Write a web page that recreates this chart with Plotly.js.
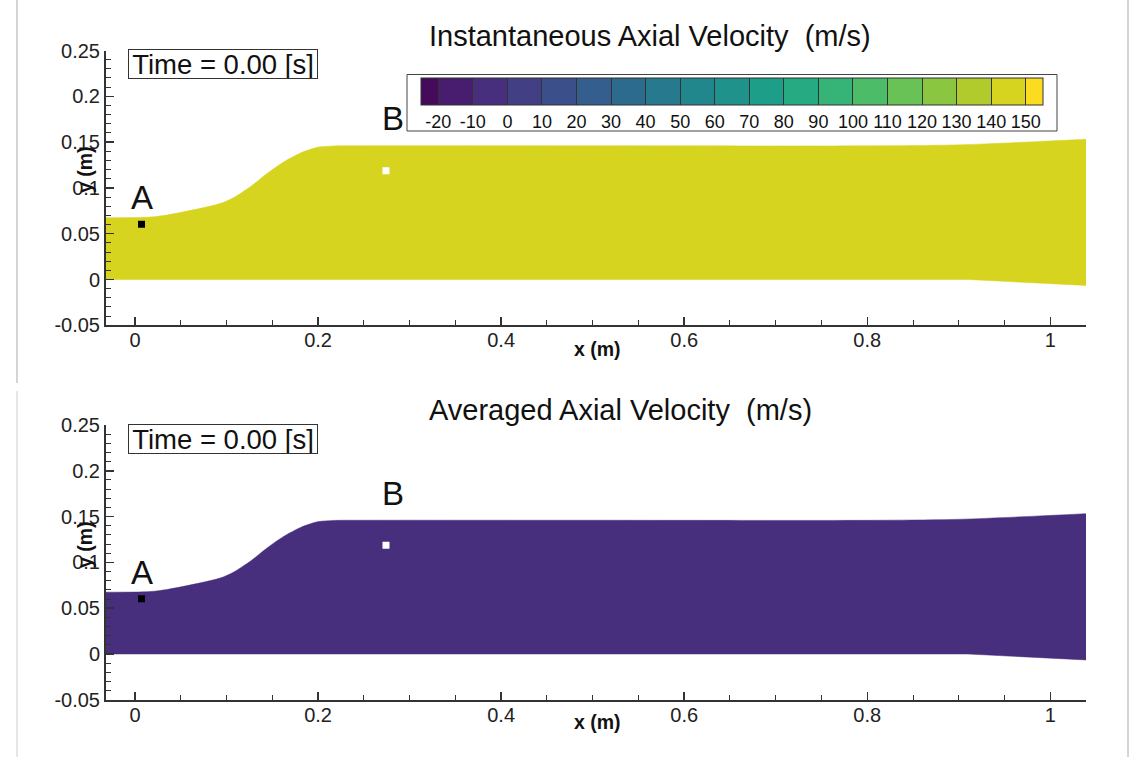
<!DOCTYPE html>
<html>
<head>
<meta charset="utf-8">
<script src="https://cdn.plot.ly/plotly-3.0.1.min.js"></script>
<style>html,body{margin:0;padding:0;background:#fff;}#chart{width:1132px;height:757px;}</style>
</head>
<body>
<div id="chart"></div>
<script>
// ---------------- data ----------------
const wallUpperX = [-0.0317, 0.0, 0.017, 0.035, 0.0715, 0.093, 0.107, 0.126, 0.1446, 0.1628, 0.181, 0.1992, 0.2174, 0.25, 0.5, 0.814, 0.905, 1.039];
const wallUpperY = [0.0675, 0.0676, 0.0682, 0.0704, 0.0777, 0.0829, 0.0890, 0.1013, 0.1160, 0.1286, 0.1382, 0.1443, 0.1458, 0.1460, 0.1460, 0.1460, 0.1472, 0.1532];
const wallLowerX = [-0.0317, 0.91, 1.039];
const wallLowerY = [0.0, 0.0, -0.0065];

const instValue = 145;   // instantaneous axial velocity (m/s), uniform at t = 0
const avgValue = -5;     // averaged axial velocity (m/s), uniform at t = 0

const probeNames = ["A", "B"];
const probeX = [0.0071, 0.2742];
const probeY = [0.0603, 0.1188];
const probeColors = ["#000000", "#ffffff"];
const labelX = [0.0074, 0.282];
const labelY = [0.089, 0.1755];

const levelBounds = [-25, -20, -10, 0, 10, 20, 30, 40, 50, 60, 70, 80, 90, 100, 110, 120, 130, 140, 150, 155];
const levelColors = ["#460a5a", "#481c6e", "#472f7d", "#423f85", "#3b4f8b", "#345e8d", "#2d6b8e", "#27798e", "#22868d",
                     "#1e928b", "#1c9e89", "#25aa82", "#36b477", "#4dbc68", "#69c256", "#8ac640", "#b0cb2b", "#d6d41e", "#fcdc1f"];
const cbTickVals = [-20, -10, 0, 10, 20, 30, 40, 50, 60, 70, 80, 90, 100, 110, 120, 130, 140, 150];
const cbTickText = ["-20", "-10", "0", "10", "20", "30", "40", "50", "60", "70", "80", "90", "100", "110", "120", "130", "140", "150"];

const xTickVals = [0, 0.2, 0.4, 0.6, 0.8, 1];
const xTickText = ["0", "0.2", "0.4", "0.6", "0.8", "1"];
const yTickVals = [-0.05, 0, 0.05, 0.1, 0.15, 0.2, 0.25];
const yTickText = ["-0.05", "0", "0.05", "0.1", "0.15", "0.2", "0.25"];

const titles = ["Instantaneous Axial Velocity \u00a0(m/s)", "Averaged Axial Velocity \u00a0(m/s)"];
const timeText = "Time = 0.00 [s]";

// ---------------- helpers ----------------
const W = 1132, H = 757;
const px = v => v / W;
const py = v => 1 - v / H;
const FONT = "Liberation Sans, Arial, Helvetica, sans-serif";
const cmin = levelBounds[0], cmax = levelBounds[levelBounds.length - 1];

const colorscale = [];
for (let i = 0; i < levelColors.length; i++) {
  colorscale.push([(levelBounds[i] - cmin) / (cmax - cmin), levelColors[i]]);
  colorscale.push([(levelBounds[i + 1] - cmin) / (cmax - cmin), levelColors[i]]);
}
function colorFor(v) {
  for (let i = 0; i < levelColors.length; i++) {
    if (v >= levelBounds[i] && v < levelBounds[i + 1]) return levelColors[i];
  }
  return levelColors[levelColors.length - 1];
}

const traces = [];
[[instValue, "x", "y"], [avgValue, "x2", "y2"]].forEach(([val, xa, ya]) => {
  const c = colorFor(val);
  traces.push({
    type: "scatter", mode: "lines", x: wallLowerX, y: wallLowerY,
    line: {color: c, width: 0.5}, xaxis: xa, yaxis: ya, hoverinfo: "skip", showlegend: false
  });
  traces.push({
    type: "scatter", mode: "lines", x: wallUpperX, y: wallUpperY, fill: "tonexty",
    fillcolor: c, line: {color: c, width: 0.5, shape: "spline", smoothing: 0.8}, xaxis: xa, yaxis: ya,
    hoverinfo: "skip", showlegend: false
  });
  traces.push({
    type: "scatter", mode: "markers", x: probeX, y: probeY, xaxis: xa, yaxis: ya,
    marker: {symbol: "square", size: 7, color: probeColors, line: {width: 0}},
    hoverinfo: "skip", showlegend: false
  });
});
// colour legend carrier
traces.push({
  type: "scatter", mode: "markers", x: [null], y: [null], xaxis: "x", yaxis: "y",
  showlegend: false, hoverinfo: "skip",
  marker: {
    color: [instValue], cmin: cmin, cmax: cmax, colorscale: colorscale, showscale: true,
    colorbar: {
      orientation: "h", thickness: 27, thicknessmode: "pixels",
      len: 650, lenmode: "pixels",
      x: px(732), xanchor: "center", y: py(74.5), yanchor: "top",
      xpad: 14, ypad: 4,
      bgcolor: "rgba(0,0,0,0)", borderwidth: 0,
      outlinecolor: "#333", outlinewidth: 1,
      tickmode: "array", tickvals: cbTickVals, ticktext: cbTickText,
      ticks: "inside", ticklen: 27, tickcolor: "#333", tickwidth: 1,
      ticklabelstandoff: -2,
      tickfont: {family: FONT, size: 18, color: "#111"}
    }
  }
});

function xAxis(anchor) {
  return {
    anchor: anchor, domain: [px(106), px(1086)], range: [-0.0317, 1.039],
    showline: true, linecolor: "#333", linewidth: 2, mirror: false,
    showgrid: false, zeroline: false,
    tickmode: "array", tickvals: xTickVals, ticktext: xTickText,
    ticks: "inside", ticklen: 8, tickwidth: 1.5, tickcolor: "#333",
    minor: {dtick: 0.05, tick0: 0, ticks: "inside", ticklen: 5, tickwidth: 1, tickcolor: "#333", showgrid: false},
    ticklabelstandoff: -4,
    tickfont: {family: FONT, size: 20, color: "#222"}, fixedrange: true
  };
}
function yAxis(anchor, dom) {
  return {
    anchor: anchor, domain: dom, range: [-0.05, 0.25],
    showline: true, linecolor: "#333", linewidth: 2, mirror: false,
    showgrid: false, zeroline: false,
    tickmode: "array", tickvals: yTickVals, ticktext: yTickText,
    ticks: "inside", ticklen: 8, tickwidth: 1.5, tickcolor: "#333",
    minor: {dtick: 0.01, tick0: 0, ticks: "inside", ticklen: 5, tickwidth: 1, tickcolor: "#333", showgrid: false},
    tickfont: {family: FONT, size: 20, color: "#222"}, fixedrange: true
  };
}

const annotations = [];
const panels = [
  {xa: "x", ya: "y", title: titles[0], titleY: 36, timeY: 49, xTitleY: 349, yTitleY: 170},
  {xa: "x2", ya: "y2", title: titles[1], titleY: 410, timeY: 424, xTitleY: 722, yTitleY: 545}
];
panels.forEach(p => {
  annotations.push({xref: "paper", yref: "paper", x: px(427), y: py(p.titleY), xanchor: "left", yanchor: "middle",
    text: p.title, showarrow: false, font: {family: FONT, size: 29, color: "#111"}});
  annotations.push({xref: "paper", yref: "paper", x: px(128), y: py(p.timeY), xanchor: "left", yanchor: "top",
    text: timeText, showarrow: false, bgcolor: "#fff", bordercolor: "#333", borderwidth: 1, borderpad: 0,
    width: 188, height: 28, align: "center",
    font: {family: FONT, size: 27.5, color: "#111"}});
  annotations.push({xref: "paper", yref: "paper", x: px(597), y: py(p.xTitleY), xanchor: "center", yanchor: "middle",
    text: "<b>x (m)</b>", showarrow: false, font: {family: FONT, size: 19.5, color: "#111"}});
  annotations.push({xref: "paper", yref: "paper", x: px(85), y: py(p.yTitleY), xanchor: "center", yanchor: "middle",
    text: "<b>y (m)</b>", textangle: -90, showarrow: false, font: {family: FONT, size: 19.5, color: "#111"}});
  probeNames.forEach((n, i) => {
    annotations.push({xref: p.xa, yref: p.ya, x: labelX[i], y: labelY[i], xanchor: "center", yanchor: "middle",
      text: n, showarrow: false, font: {family: FONT, size: 33, color: "#111"}});
  });
});

const layout = {
  width: W, height: H, margin: {l: 0, r: 0, t: 0, b: 0},
  paper_bgcolor: "#fff", plot_bgcolor: "rgba(0,0,0,0)", showlegend: false,
  font: {family: FONT},
  xaxis: xAxis("y"), yaxis: yAxis("x", [py(325.3), py(50.5)]),
  xaxis2: xAxis("y2"), yaxis2: yAxis("x2", [py(699.8), py(425)]),
  annotations: annotations,
  shapes: [
    {type: "rect", xref: "paper", yref: "paper", x0: px(407), x1: px(1057), y0: py(131), y1: py(74.5),
     fillcolor: "#fff", line: {color: "#444", width: 1}, layer: "below"},
    {type: "line", xref: "paper", yref: "paper", x0: px(17), x1: px(17), y0: py(0), y1: py(383), line: {color: "#aaa", width: 1}},
    {type: "line", xref: "paper", yref: "paper", x0: px(17), x1: px(17), y0: py(391), y1: py(757), line: {color: "#ccc", width: 1}},
    {type: "line", xref: "paper", yref: "paper", x0: px(1128), x1: px(1128), y0: py(0), y1: py(757), line: {color: "#aaa", width: 1}}
  ]
};

Plotly.newPlot("chart", traces, layout, {displayModeBar: false, staticPlot: true});
</script>
</body>
</html>
